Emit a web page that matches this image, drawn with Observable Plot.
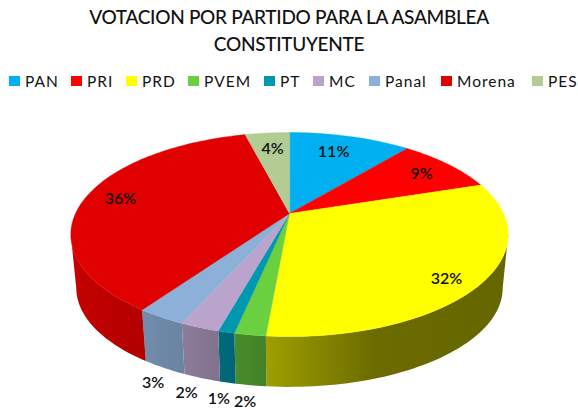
<!DOCTYPE html>
<html>
<head>
<meta charset="utf-8">
<script src="https://cdn.jsdelivr.net/npm/d3@7"></script>
<script src="https://cdn.jsdelivr.net/npm/@observablehq/plot@0.6"></script>
<style>
  html, body { margin: 0; padding: 0; background: #fff; width: 578px; overflow: hidden; }
  #header { height: 100px; position: relative; font-family: Lato, sans-serif; color: #111; }
  #title { position: absolute; left: 0; top: 3px; width: 578px; text-align: center; font-size: 19px; letter-spacing: -0.3px; font-weight: 500; line-height: 27px; }
  #legend { position: absolute; left: 0; top: 71px; width: 578px; height: 20px; font-size: 15.5px; line-height: 20px; letter-spacing: 1px; white-space: nowrap; }
  #legend .item { position: absolute; top: 0; display: flex; align-items: center; }
  #legend .sw { width: 11px; height: 10px; margin-right: 5px; display: inline-block; }
  svg { display: block; }
</style>
</head>
<body>
<div id="header">
  <div id="title">VOTACION POR PARTIDO PARA LA ASAMBLEA<br>CONSTITUYENTE</div>
  <div id="legend"></div>
</div>
<div id="chart"></div>
<script>
const parties = ["PAN", "PRI", "PRD", "PVEM", "PT", "MC", "Panal", "Morena", "PES"];
const shares  = [11, 9, 31.4, 1.9, 1, 2.4, 3, 36.3, 4];
const labels  = ["11%", "9%", "32%", "2%", "1%", "2%", "3%", "36%", "4%"];
const colors  = ["#00b0f0", "#ff0000", "#ffff00", "#6ad040", "#0097b0", "#bba4cc", "#8db0d8", "#e00000", "#b3cc94"];

// Label placement relative to each slice: radius in pie units, turn in degrees.
const labelRadius = [0.767, 0.809, 0.871, 1.386, 1.384, 1.375, 1.36, 0.831, 0.776];
const labelTurn   = [-1.8, 0.6, 3.7, -2.3, -3.8, -5.1, -9.3, 0.7, 0.4];
const legendLeft  = [9, 71, 126, 188, 264, 313, 369, 441, 532];

// Perspective of the tilted disc and the depth of its wall.
const tilt = 0.206, wallScaleX = 0.975, wallScaleY = 0.97, wallDrop = 0.553;
const shadeAt = [-1, -0.5, -0.1, 0.4, 1];
const shadeBy = [0.88, 0.75, 0.62, 0.42, 0.40];

const project = (deg, r = 1) => {
  const a = deg * Math.PI / 180, u = r * Math.sin(a), v = r * Math.cos(a), d = 1 + tilt * v;
  return [u / d, v / d];
};

let acc = 0;
const slices = parties.map((name, i) => {
  const start = acc / 100 * 360; acc += shares[i];
  return {name, i, start, end: acc / 100 * 360, color: colors[i], label: labels[i]};
});

const topPts = [], wallPts = [];
for (const s of slices) {
  const steps = Math.max(2, Math.ceil((s.end - s.start) / 1.5));
  const angles = d3.range(steps + 1).map(k => s.start + (s.end - s.start) * k / steps);
  topPts.push({x: 0, y: 0, id: s.name, c: s.color});
  for (const a of angles) { const [x, y] = project(a); topPts.push({x, y, id: s.name, c: s.color}); }
  // Only the near part of the wall shows, up to the disc's left and right extremes.
  const near = angles.map(a => project(a)).filter(([, y]) => y < -0.2);
  if (near.length < 2) continue;
  const fill = `url(#wall-${s.i})`;
  for (const [x, y] of near) wallPts.push({x, y, id: s.name, c: fill});
  for (const [x, y] of near.slice().reverse()) wallPts.push({x: x * wallScaleX, y: y * wallScaleY - wallDrop, id: s.name, c: fill});
}
const labelPts = slices.map((s, i) => {
  const [x, y] = project((s.start + s.end) / 2 + labelTurn[i], labelRadius[i]);
  return {x, y, label: s.label};
});

const legend = d3.select("#legend");
parties.forEach((p, i) => {
  const it = legend.append("div").attr("class", "item").style("left", legendLeft[i] + "px");
  it.append("span").attr("class", "sw").style("background", colors[i]);
  it.append("span").text(p);
});

const chart = Plot.plot({
  width: 578, height: 310, margin: 0,
  x: {domain: [-1, 1], range: [75, 503], axis: null},
  y: {domain: [-1, 1], range: [210.7, 15.3], axis: null},
  color: {type: "identity"},
  marks: [
    Plot.line(wallPts, {x: "x", y: "y", z: "id", fill: "c", stroke: "none", curve: "linear-closed"}),
    Plot.line(topPts, {x: "x", y: "y", z: "id", fill: "c", stroke: "c", strokeWidth: 0.4, curve: "linear-closed"}),
    Plot.text(labelPts, {x: "x", y: "y", text: "label", fontSize: 16, fontWeight: 600, fontFamily: "Lato, sans-serif", fill: "#111"})
  ]
});
// Horizontal wall shading, one gradient per slice colour, on the chart's own x scale.
const defs = d3.select(chart).insert("defs", ":first-child");
const xScale = chart.scale("x");
slices.forEach(s => {
  const g = defs.append("linearGradient").attr("id", `wall-${s.i}`).attr("gradientUnits", "userSpaceOnUse")
    .attr("x1", xScale.apply(-1)).attr("x2", xScale.apply(1)).attr("y1", 0).attr("y2", 0);
  const c = d3.rgb(s.color);
  shadeAt.forEach((at, k) => {
    g.append("stop").attr("offset", (at + 1) / 2)
      .attr("stop-color", d3.rgb(c.r * shadeBy[k], c.g * shadeBy[k], c.b * shadeBy[k]).formatHex());
  });
});
document.getElementById("chart").appendChild(chart);
</script>
</body>
</html>
